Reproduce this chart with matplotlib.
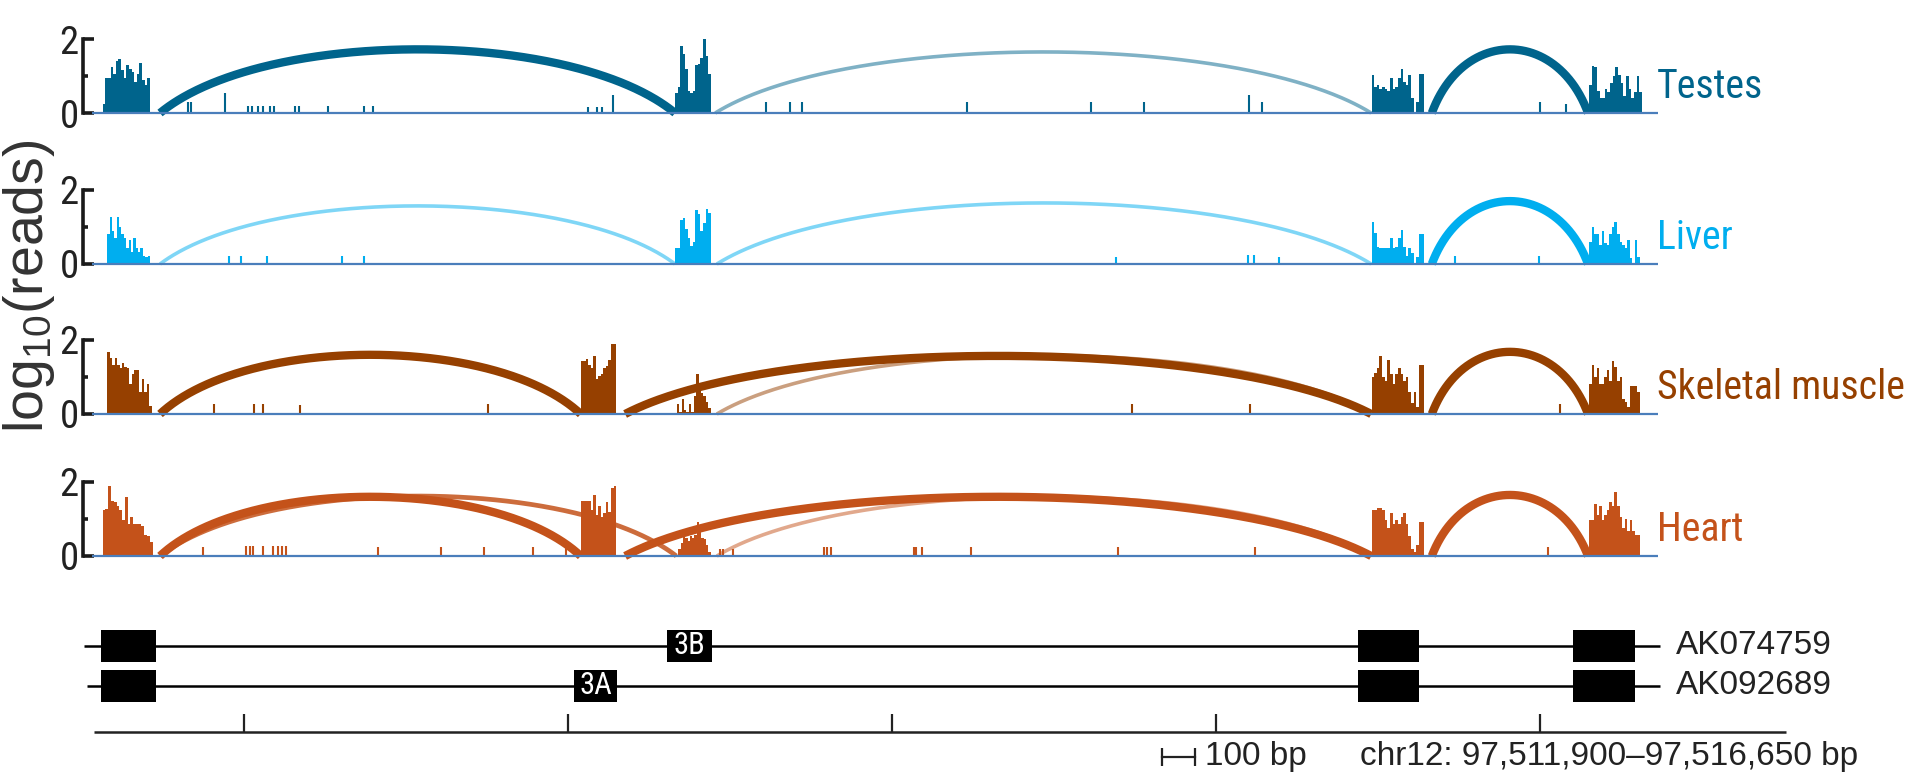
import numpy as np
import matplotlib
matplotlib.use('Agg')
import matplotlib.pyplot as plt
from matplotlib import font_manager
from matplotlib.patches import Rectangle

# ---- data: positions in bp from chr12:97,511,900, heights in log10(reads) ----
tissues = ['Testes', 'Liver', 'Skeletal muscle', 'Heart']

testes_cov = [
    (65, 211, [0.25, 0.95, 0.95, 1.25, 1.05, 1.4, 1.45, 1.15, 0.95, 1.3, 1.2, 1.1, 0.85, 1.05, 1.35, 0.9, 0.75, 0.95]),
    (1831, 1941, [0.55, 0.7, 1.8, 1.6, 1.2, 0.6, 0.55, 0.6, 1.3, 1.33, 1.5, 2.0, 1.55, 1.05]),
    (3980, 4143, [1.04, 0.7, 0.75, 0.66, 0.7, 0.66, 0.6, 0.95, 0.66, 0.7, 0.95, 1.19, 0.85, 0.75, 1.04, 0.4, 0, 0.3, 1.06, 1.06]),
    (4651, 4814, [0.75, 1.28, 1.24, 0.6, 0.41, 0.41, 0.66, 0.56, 0.8, 0.99, 1.24, 1.04, 0.8, 0.46, 0.99, 0.66, 0.41, 0.56, 0.99, 0.56]),
]
liver_cov = [
    (79, 211, [0.8, 1.28, 0.9, 0.7, 1.28, 1.0, 0.8, 0.7, 0.42, 0.66, 0.32, 0.7, 0.42, 0.32, 0.42, 0.22, 0.18, 0.22]),
    (1831, 1941, [0.42, 0.42, 1.2, 1.25, 0.95, 0.7, 0.5, 0.6, 1.45, 1.35, 0.9, 1.1, 1.48, 1.38]),
    (3980, 4143, [1.14, 0.85, 0.46, 0.42, 0.42, 0.42, 0.42, 0.7, 0.42, 0.46, 0.7, 0.92, 0.46, 0.22, 0.42, 0.3, 0, 0.2, 0.8, 0.8]),
    (4651, 4808, [0.6, 1.0, 0.8, 0.8, 0.51, 0.9, 0.56, 0.51, 0.8, 1.0, 1.14, 0.8, 0.6, 0.51, 0.42, 0.66, 0.17, 0.0, 0.66, 0.2]),
]
skeletal_cov = [
    (79, 216, [1.67, 1.52, 1.33, 1.52, 1.33, 1.24, 1.38, 1.28, 1.24, 0.8, 1.09, 1.19, 1.2, 0.6, 0.95, 0.6, 0.8, 0.22]),
    (1540, 1649, [1.43, 1.43, 1.5, 1.33, 1.24, 1.57, 0.95, 1.04, 1.09, 1.24, 1.3, 1.45, 1.9, 1.9]),
    (1836, 1941, [0.27, 0.05, 0.4, 0.1, 0.05, 0.27, 0.05, 0.5, 1.09, 0.75, 0.56, 0.5, 0.32, 0.17]),
    (3980, 4143, [0.99, 1.1, 1.24, 1.57, 0.99, 0.9, 1.45, 1.09, 0.8, 1.09, 1.24, 1.09, 0.9, 0.99, 0.6, 0.3, 0.6, 0.2, 1.33, 1.33]),
    (4651, 4808, [0.8, 1.33, 1.0, 1.24, 0.8, 0.8, 1.0, 1.19, 0.9, 1.43, 1.28, 0.9, 1.0, 0.41, 0.32, 0.2, 0.75, 0.75, 0.75, 0.6]),
]
heart_cov = [
    (65, 219, [1.25, 1.26, 1.88, 1.5, 1.45, 1.35, 1.25, 0.96, 1.59, 0.87, 1.06, 0.87, 0.87, 0.87, 0.82, 0.58, 0.53, 0.39]),
    (1540, 1649, [1.5, 1.5, 1.5, 1.5, 1.25, 1.64, 1.1, 1.35, 1.06, 1.16, 1.45, 1.2, 1.85, 1.88]),
    (1841, 1941, [0.2, 0.34, 0.58, 0.5, 0.4, 0.53, 0.5, 0.58, 0.92, 0.68, 0.5, 0.45, 0.29, 0.1]),
    (3980, 4143, [1.25, 1.25, 1.3, 1.3, 1.25, 0.96, 0.77, 1.16, 0.87, 0.97, 0.87, 1.06, 1.16, 0.87, 0.53, 0.2, 0.1, 0.3, 0.92, 0.92]),
    (4651, 4808, [0.96, 0.96, 1.4, 1.1, 1.35, 0.96, 1.1, 1.25, 1.45, 1.35, 1.74, 1.35, 1.06, 0.77, 1.0, 0.68, 0.96, 0.68, 0.58, 0.58]),
]

# isolated intronic reads
testes_spike_pos = [327, 338, 442, 514, 526, 544, 560, 581, 595, 657, 671, 760, 871, 899, 1562, 1589, 1605, 1640,
                    2111, 2185, 2223, 2732, 3115, 3278, 3602, 3641, 4500, 4579]
testes_spike_h = [0.3, 0.3, 0.55, 0.2, 0.2, 0.2, 0.2, 0.2, 0.2, 0.2, 0.2, 0.2, 0.2, 0.2, 0.15, 0.15, 0.15, 0.5,
                  0.3, 0.3, 0.3, 0.3, 0.3, 0.3, 0.5, 0.3, 0.3, 0.25]
liver_spike_pos = [454, 492, 572, 802, 871, 3192, 3599, 3617, 3695, 4176, 4238, 4497]
liver_spike_h = [0.22, 0.22, 0.22, 0.22, 0.22, 0.2, 0.25, 0.25, 0.2, 0.15, 0.22, 0.22]
skeletal_spike_pos = [409, 532, 560, 674, 1254, 3241, 3604, 4561]
skeletal_spike_h = [0.27, 0.27, 0.27, 0.25, 0.27, 0.28, 0.28, 0.27]
heart_spike_pos = [375, 507, 520, 529, 560, 591, 606, 618, 631, 916, 1109, 1242, 1394, 1495,
                   1970, 1979, 2010, 2291, 2300, 2311, 2568, 2575, 2593, 2744, 3198, 3622, 4524]
heart_spike_h = [0.25, 0.28, 0.28, 0.28, 0.28, 0.28, 0.28, 0.28, 0.28, 0.25, 0.25, 0.25, 0.25, 0.25,
                 0.2, 0.2, 0.2, 0.25, 0.25, 0.25, 0.25, 0.25, 0.25, 0.25, 0.25, 0.25, 0.25]

# splice junctions: (donor, acceptor, arc peak, read support)
testes_junc = [(242, 1831, 1.72, 'high'), (1955, 3979, 1.65, 'low'), (4166, 4648, 1.72, 'high')]
liver_junc = [(242, 1831, 1.57, 'low'), (1960, 3979, 1.65, 'low'), (4166, 4648, 1.7, 'high')]
skeletal_junc = [(242, 1540, 1.6, 'high'), (1677, 3979, 1.57, 'high'), (1960, 3979, 1.58, 'low'), (4166, 4648, 1.68, 'high')]
heart_junc = [(242, 1540, 1.6, 'high'), (242, 1835, 1.62, 'mid'), (1677, 3979, 1.6, 'high'), (1960, 3979, 1.6, 'low'),
              (4166, 4648, 1.65, 'high')]

# gene models
gene_names = ['AK074759', 'AK092689']
gene_spans = [(7, 4870), (18, 4870)]
gene_exons = [[(60, 230), (1806, 1944), (3937, 4126), (4603, 4792)],
              [(60, 230), (1519, 1652), (3937, 4126), (4603, 4792)]]
alt_exon_names = ['3B', '3A']
ruler_span = (37, 5259)
ruler_ticks = [500, 1500, 2500, 3500, 4500]
scale_bar = (3335, 3435)
region_label = 'chr12: 97,511,900\u201397,516,650 bp'

# ---- styles ----
colors = ['#00648C', '#00AEEF', '#964000', '#C4521A']
baseline_color = '#4A7EBB'
junc_style = {'high': (6.0, 1.0), 'mid': (3.4, 0.85), 'low': (2.6, 0.5)}

names = {f.name for f in font_manager.fontManager.ttflist}
SANS = 'Liberation Sans' if 'Liberation Sans' in names else 'DejaVu Sans'
NARROW = SANS
for cand in ['Liberation Sans Narrow', 'Roboto Condensed', 'Open Sans Condensed', 'DejaVu Sans Condensed']:
    if cand in names:
        NARROW = cand
        break

W, H = 1919, 778
PX_PER_BP = 0.3241
X0_PX = 81.6
XMIN = -X0_PX / PX_PER_BP
XMAX = (W - X0_PX) / PX_PER_BP
UNIT = 37.0            # pixels per log10 unit
baselines_px = [113, 264, 414, 556]
YLO, YHI = -0.45, 2.35

fig = plt.figure(figsize=(W / 100, H / 100), dpi=100)


def draw_arc(ax, x0, x1, peak, color, lw, alpha):
    t = np.linspace(0, 1, 300)
    k = 0.2
    h = peak / 0.75
    xs = x0 + (x1 - x0) * (3 * (1 - t) ** 2 * t * k + 3 * (1 - t) * t ** 2 * (1 - k) + t ** 3)
    ys = 3 * (1 - t) * t * h
    ax.plot(xs, ys, color=color, lw=lw, alpha=alpha, solid_capstyle='butt', clip_on=False, zorder=3)


covs = [testes_cov, liver_cov, skeletal_cov, heart_cov]
spikes = [(testes_spike_pos, testes_spike_h), (liver_spike_pos, liver_spike_h),
          (skeletal_spike_pos, skeletal_spike_h), (heart_spike_pos, heart_spike_h)]
juncs = [testes_junc, liver_junc, skeletal_junc, heart_junc]

labels = []
for i, name in enumerate(tissues):
    c = colors[i]
    hpx = (YHI - YLO) * UNIT
    bottom = H - baselines_px[i] + YLO * UNIT
    ax = fig.add_axes([0, bottom / H, 1, hpx / H])
    ax.set_xlim(XMIN, XMAX)
    ax.set_ylim(YLO, YHI)
    ax.patch.set_visible(False)

    for start, end, hts in covs[i]:
        edges = np.linspace(start, end, len(hts) + 1)
        ax.fill_between(edges, list(hts) + [hts[-1]], step='post', color=c, lw=0, zorder=2)
    pos, hs = spikes[i]
    ax.vlines(pos, 0, hs, color=c, lw=1.5, zorder=2)
    for x0, x1, pk, sup in juncs[i]:
        lw, al = junc_style[sup]
        draw_arc(ax, x0, x1, pk, c, lw, al)
    ax.plot([32, 4864], [0, 0], color=baseline_color, lw=1.6, zorder=4, solid_capstyle='butt')

    # bracket-style y axis
    for s in ['top', 'right', 'bottom']:
        ax.spines[s].set_visible(False)
    ax.spines['left'].set_position(('data', 4))
    ax.spines['left'].set_bounds(0, 2)
    ax.spines['left'].set_linewidth(2.6)
    ax.spines['left'].set_color('#1a1a1a')
    ax.set_xticks([])
    ax.set_yticks([0, 2])
    ax.set_yticks([1], minor=True)
    ax.tick_params(axis='y', which='major', direction='in', length=8, width=2.6, color='#1a1a1a',
                   pad=3, labelsize=28, labelcolor='#222222')
    ax.tick_params(axis='y', which='minor', direction='in', length=3.5, width=2.6, color='#1a1a1a')
    for lab in ax.get_yticklabels():
        lab.set_fontfamily(NARROW)

    labels.append(ax.text(4861, 0.4, name, color=c, fontsize=30, family=NARROW,
                          ha='left', va='baseline'))

# fit the track names to the width they take in the original
renderer = fig.canvas.get_renderer()
widest = max(t.get_window_extent(renderer).width for t in labels)
for t in labels:
    t.set_fontsize(30 * 248 / widest)

fig.text(29 / W, 1 - 286 / H, r'$\mathregular{log_{10}(reads)}$', rotation=90, ha='center', va='center',
         fontsize=40, family=SANS, color='#333333')

# ---- gene models and coordinate ruler ----
ROW = 40.3
g_top, g_bot = 600, 778
gx = fig.add_axes([0, 0, 1, (g_bot - g_top) / H])
gx.set_xlim(XMIN, XMAX)
gx.set_ylim((686 - g_bot) / ROW, (686 - g_top) / ROW)
gx.axis('off')
box_h = 32 / ROW
for r, gname in enumerate(gene_names):
    y = 1 - r
    gx.plot(gene_spans[r], [y, y], color='black', lw=1.8, solid_capstyle='butt')
    for k, (s, e) in enumerate(gene_exons[r]):
        gx.add_patch(Rectangle((s, y - box_h / 2), e - s, box_h, facecolor='black', edgecolor='none', zorder=3))
        if k == 1:
            gx.text((s + e) / 2, y, alt_exon_names[r], color='white', fontsize=22, family=NARROW,
                    ha='center', va='center', zorder=4)
    gx.text(4918, y, gname, fontsize=24, family=SANS, color='#222222', ha='left', va='center')

ry = (686 - 731.7) / ROW
gx.plot(ruler_span, [ry, ry], color='#222222', lw=1.8, solid_capstyle='butt')
gx.vlines(ruler_ticks, ry, (686 - 714) / ROW, color='#222222', lw=1.6)
sy = (686 - 757) / ROW
gx.plot(scale_bar, [sy, sy], color='#222222', lw=1.6)
gx.vlines(scale_bar, sy - 0.22, sy + 0.22, color='#222222', lw=1.6)
gx.text(3465, sy, '100 bp', fontsize=24, family=SANS, color='#222222', ha='left', va='center')
gx.text(3946, sy, region_label, fontsize=24, family=SANS, color='#222222', ha='left', va='center')

fig.savefig('out.png', dpi=100)
